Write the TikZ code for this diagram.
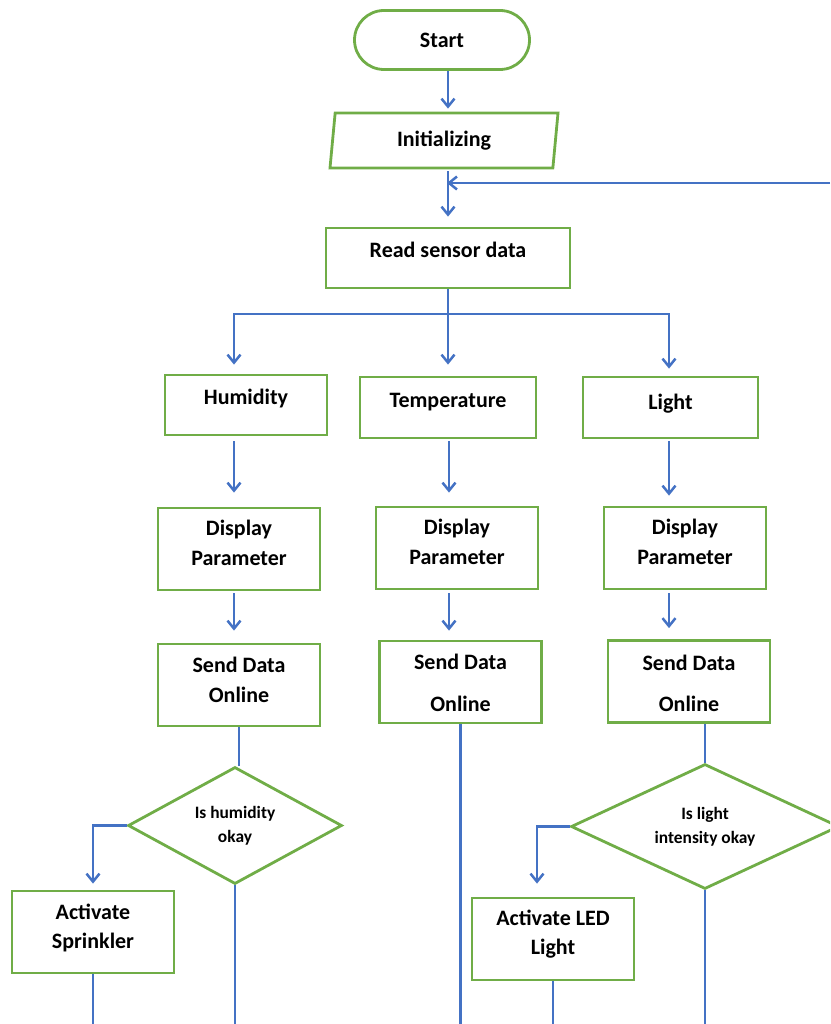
\documentclass[tikz,border=0pt]{standalone}
\usepackage{fontspec}
\setmainfont{Carlito}
\usetikzlibrary{arrows.meta,positioning,shapes.geometric,shapes.misc}

\definecolor{boxgreen}{RGB}{112,173,71}
\definecolor{lineblue}{RGB}{68,114,196}

\newcommand{\boxfont}{\fontsize{22}{30}\selectfont\bfseries}
\newcommand{\askfont}{\fontsize{17.4}{24}\selectfont\bfseries}

\begin{document}
\begin{tikzpicture}[x=1pt,
            y=-1pt,
            >={Straight Barb[length=8pt,width=13pt]},
            wire/.style={draw=lineblue, line width=2.5pt},
            outline/.style={draw=boxgreen, line width=2.8pt, inner sep=0pt},
            box/.style={outline, rectangle, minimum width=162pt, minimum height=82pt},
            say/.style={font=\boxfont, align=center, yshift=#1},
            say/.default=6pt,
            ask/.style={outline, diamond, aspect=2, font=\askfont, align=center}]

        \useasboundingbox (0,0) rectangle (830,1024);
        \clip (0,0) rectangle (830,1024);

        \coordinate (loopin) at (830,183);
        \coordinate (split)  at (448,314);
        \coordinate (exit)   at (0,1024);
        \coordinate (hcol)   at (234,0);
        \coordinate (tcol)   at (449,0);
        \coordinate (lcol)   at (669,0);

        \node[outline, rounded rectangle, minimum width=175pt, minimum height=59pt, font=\boxfont] (start) at (442,40) {Start};
        \node[outline, trapezium, trapezium left angle=75, trapezium right angle=105, trapezium stretches body,
              minimum width=228pt, minimum height=55pt, font=\boxfont] (init) at (444,140.5) {Initializing};
        \node[box, minimum width=244pt, minimum height=60pt, label={[say=8pt]center:Read sensor data}] (read) at (448,258) {};

        \node[box, minimum height=60pt, label={[say=6pt]center:Humidity}] (hum) at (246,405) {};
        \node[box, minimum width=176pt, minimum height=61pt, label={[say=5.5pt]center:Temperature}] (temp) at (448,407.5) {};
        \node[box, minimum width=175pt, minimum height=61pt, label={[say=3.5pt]center:Light}] (light) at (670.5,407.5) {};

        \node[box, label={[say=6pt]center:{Display\\Parameter}}]   (hdisp) at (239,549) {};
        \node[box, label={[say=6pt]center:{Display\\Parameter}}]   (tdisp) at (457,548) {};
        \node[box, label={[say=6.5pt]center:{Display\\Parameter}}] (ldisp) at (685,548) {};

        \node[box, label={[say=5.5pt]center:{Send Data\\Online}}]       (hsend) at (239,685) {};
        \node[box, label={[say=-1pt]center:{Send Data\\[12pt]Online}}]  (tsend) at (460.5,682) {};
        \node[box, label={[say=-1.5pt]center:{Send Data\\[11pt]Online}}] (lsend) at (689,681.5) {};

        \node[ask, minimum width=214pt, minimum height=117pt] (hdec) at (235,825.5) {Is humidity\\okay};
        \node[ask, minimum width=268pt, minimum height=125pt] (ldec) at (705,826.5) {Is light\\intensity okay};

        \node[box, label={[say=4pt]center:{Activate\\[-1pt]Sprinkler}}] (spr) at (93,932) {};
        \node[box, label={[say=5pt]center:{Activate LED\\[-1pt]Light}}] (led) at (553,939) {};

        \draw[wire,->,shorten >=3pt] (start.south -| read) -- (init.north -| read);
        \draw[wire,->,shorten <=2pt,shorten >=10pt] (init.south -| read) -- (read.north);
        \draw[wire,->,shorten >=-1pt] (loopin) -- (loopin -| read);

        \draw[wire,->,shorten >=11pt] (read.south) -- (temp.north);
        \draw[wire,->,shorten >=9pt] (split) -| (hum.north -| hcol);
        \draw[wire,->,shorten >=7pt] (split) -| (light.north -| lcol);

        \draw[wire,->,shorten <=5pt,shorten >=14pt] (hum.south -| hcol) -- (hdisp.north -| hcol);
        \draw[wire,->,shorten <=2pt,shorten >=12pt] (hdisp.south -| hcol) -- (hsend.north -| hcol);
        \draw[wire] (hsend.south) -- (hsend.south |- hdec.north);
        \draw[wire,->,shorten >=6pt] (hdec.west) -| (spr.north);
        \draw[wire] (spr.south) -- (spr.south |- exit);
        \draw[wire] (hdec.south) -- (hdec.south |- exit);

        \draw[wire,->,shorten <=2pt,shorten >=13pt] (temp.south -| tcol) -- (tdisp.north -| tcol);
        \draw[wire,->,shorten <=3pt,shorten >=9pt] (tdisp.south -| tcol) -- (tsend.north -| tcol);
        \draw[wire] (tsend.south) -- (tsend.south |- exit);

        \draw[wire,->,shorten <=2pt,shorten >=10pt] (light.south -| lcol) -- (ldisp.north -| lcol);
        \draw[wire,->,shorten <=3pt,shorten >=11pt] (ldisp.south -| lcol) -- (lsend.north -| lcol);
        \draw[wire] (lsend.south -| ldec) -- (ldec.north);
        \draw[wire,->,shorten >=13pt] (ldec.west) -| ([xshift=-16pt]led.north);
        \draw[wire] (led.south) -- (led.south |- exit);
        \draw[wire] (ldec.south) -- (ldec.south |- exit);

    \end{tikzpicture}
\end{document}
